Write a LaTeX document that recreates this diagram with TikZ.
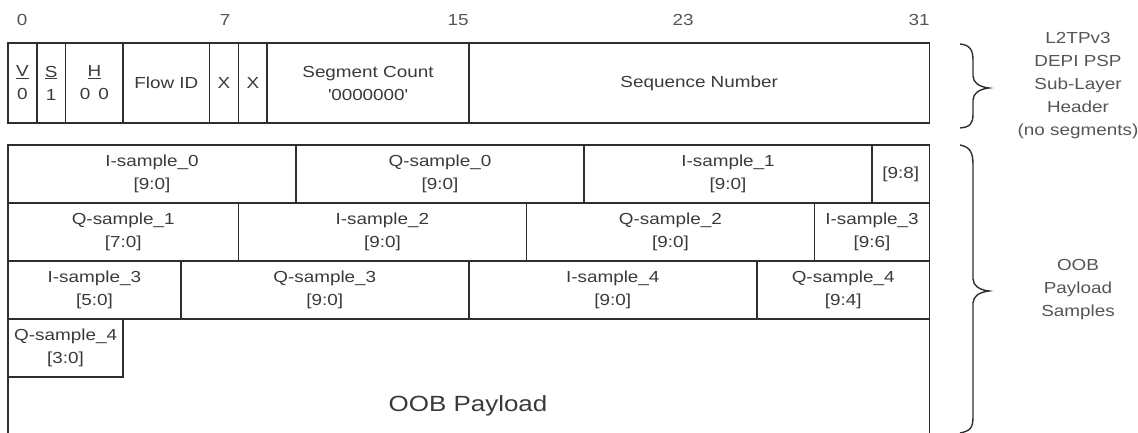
\documentclass[tikz,border=0pt]{standalone}
\usepackage{fontspec}
\setmainfont{Liberation Sans}[FakeStretch=1.18]
\definecolor{lc}{HTML}{2E2E2E}
\definecolor{tc}{HTML}{3A3A3A}
\definecolor{rc}{HTML}{555555}
\newcommand{\cellfont}{\fontsize{16}{23}\selectfont}
\begin{document}
\begin{tikzpicture}[x=1pt,y=-1pt,
  cell/.style={draw=lc, line width=1.5pt, outer sep=0pt, inner sep=0pt,
    anchor=north west, align=center, font=\cellfont, text=tc},
  bitnum/.style={font=\cellfont, text=rc, inner sep=0pt},
  side/.style={font=\cellfont, text=rc, align=center, inner sep=0pt},
  brc/.style={draw=lc, line width=1.4pt}]
\useasboundingbox (0,0) rectangle (1138,433);
% bit numbers
\node[bitnum] (b0) at (22,20) {0};
\node[bitnum] (b7) at (225,20) {7};
\node[bitnum] (b15) at (458,20) {15};
\node[bitnum] (b23) at (683,20) {23};
\node[bitnum] (b31) at (919,20) {31};
% header
\node[cell, minimum width=28.8pt, minimum height=80pt] (v) at (8,43) {\underline{V}\\0};
\node[cell, minimum width=28.8pt, minimum height=80pt] (s) at (36.8,43) {\underline{S}\\1};
\node[cell, minimum width=57.6pt, minimum height=80pt] (h) at (65.6,43) {\underline{H}\\0\enspace0};
\node[cell, minimum width=86.4pt, minimum height=80pt] (flow) at (123.2,43) {Flow ID};
\node[cell, minimum width=28.8pt, minimum height=80pt] (xa) at (209.6,43) {X};
\node[cell, minimum width=28.8pt, minimum height=80pt] (xb) at (238.4,43) {X};
\node[cell, minimum width=201.6pt, minimum height=80pt] (seg) at (267.2,43) {Segment Count\\\textquotesingle0000000\textquotesingle};
\node[cell, minimum width=460.8pt, minimum height=80pt] (seq) at (468.8,43) {Sequence Number};
% payload outer
\node[cell, minimum width=921.6pt, minimum height=289pt] (pay) at (8,145) {};
\node[font=\fontsize{22}{26}\selectfont, text=tc, inner sep=0pt] (oob) at (468,406) {OOB Payload};
% row 1
\node[cell, minimum width=288pt, minimum height=58pt] (i0) at (8,145) {I-sample\_0\\{[9:0]}};
\node[cell, minimum width=288pt, minimum height=58pt] (q0) at (296,145) {Q-sample\_0\\{[9:0]}};
\node[cell, minimum width=288pt, minimum height=58pt] (i1) at (584,145) {I-sample\_1\\{[9:0]}};
\node[cell, minimum width=57.6pt, minimum height=58pt] (i1b) at (872,145) {[9:8]};
% row 2
\node[cell, minimum width=230.4pt, minimum height=58pt] (q1) at (8,203) {Q-sample\_1\\{[7:0]}};
\node[cell, minimum width=288pt, minimum height=58pt] (i2) at (238.4,203) {I-sample\_2\\{[9:0]}};
\node[cell, minimum width=288pt, minimum height=58pt] (q2) at (526.4,203) {Q-sample\_2\\{[9:0]}};
\node[cell, minimum width=115.2pt, minimum height=58pt] (i3a) at (814.4,203) {I-sample\_3\\{[9:6]}};
% row 3
\node[cell, minimum width=172.8pt, minimum height=58pt] (i3b) at (8,261) {I-sample\_3\\{[5:0]}};
\node[cell, minimum width=288pt, minimum height=58pt] (q3) at (180.8,261) {Q-sample\_3\\{[9:0]}};
\node[cell, minimum width=288pt, minimum height=58pt] (i4) at (468.8,261) {I-sample\_4\\{[9:0]}};
\node[cell, minimum width=172.8pt, minimum height=58pt] (q4a) at (756.8,261) {Q-sample\_4\\{[9:4]}};
% row 4
\node[cell, minimum width=115.2pt, minimum height=58pt] (q4b) at (8,319) {Q-sample\_4\\{[3:0]}};
% braces
\draw[brc] (960,44) .. controls (970,45) and (973,50) .. (973,60)
  -- (973,76) .. controls (973,83) and (980,87) .. (989,88)
  .. controls (980,89) and (973,93) .. (973,100)
  -- (973,114) .. controls (973,124) and (970,127) .. (960,128);
\draw[brc] (960,145) .. controls (970,147) and (973,152) .. (973,165)
  -- (973,279) .. controls (973,286) and (980,290) .. (989,291)
  .. controls (980,292) and (973,296) .. (973,303)
  -- (973,417) .. controls (973,428) and (970,431) .. (960,433);
% side labels
\node[side] (hdr) at (1078,86) {L2TPv3\\DEPI PSP\\Sub-Layer\\Header\\(no segments)};
\node[side] (smp) at (1078,290) {OOB\\Payload\\Samples};
\end{tikzpicture}
\end{document}
